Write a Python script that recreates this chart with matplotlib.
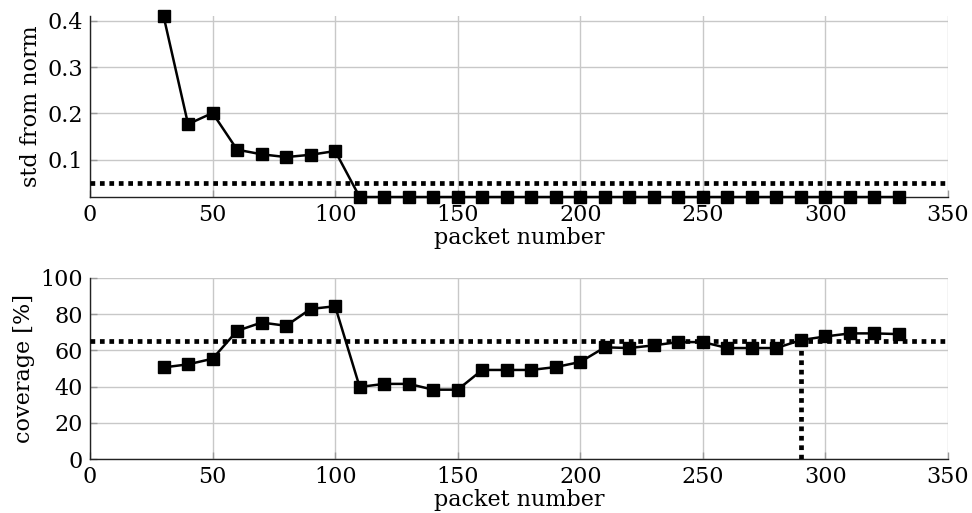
import matplotlib
matplotlib.use("Agg")
import matplotlib.pyplot as plt

packets = [30, 40, 50, 60, 70, 80, 90, 100, 110, 120, 130, 140, 150, 160, 170, 180,
           190, 200, 210, 220, 230, 240, 250, 260, 270, 280, 290, 300, 310, 320, 330]
std_norm = [0.41, 0.177, 0.201, 0.122, 0.112, 0.106, 0.111, 0.119] + [0.02] * 23
coverage = [50.6, 52.3, 55.4, 70.8, 75.4, 73.6, 82.9, 84.4, 39.8, 41.5, 41.5, 38.3,
            38.3, 49.2, 49.2, 49.2, 50.8, 53.6, 61.7, 61.3, 62.8, 64.6, 64.6, 61.3,
            61.3, 61.3, 65.7, 67.7, 69.4, 69.4, 69.0]
std_threshold = 0.05
coverage_threshold = 65
stop_packet = 290

std_ticks = [0.1, 0.2, 0.3, 0.4]
cov_ticks = [0, 20, 40, 60, 80, 100]
x_ticks = [0, 50, 100, 150, 200, 250, 300, 350]

plt.rcParams["font.family"] = ["DejaVu Serif"]
plt.rcParams["font.size"] = 16

fig = plt.figure(figsize=(9.72, 5.13), dpi=100)
W, H = 972, 513
ax1 = fig.add_axes([90 / W, 1 - 197 / H, 858 / W, 181 / H])
ax2 = fig.add_axes([90 / W, 1 - 459 / H, 858 / W, 181 / H])

dot = (0, (1, 1))


def style(ax):
    ax.grid(True, color="#c8c8c8", lw=1.0)
    ax.set_axisbelow(True)
    for s in ("top", "right"):
        ax.spines[s].set_visible(False)
    for s in ("left", "bottom"):
        ax.spines[s].set_linewidth(1.0)
        ax.spines[s].set_color("#222222")
    ax.tick_params(direction="in", length=5, width=1, color="#999999", pad=5)
    ax.set_xlim(0, 350)
    ax.set_xticks(x_ticks)
    ax.set_xlabel("packet number", labelpad=0.5)


ax1.plot(packets, std_norm, color="black", lw=1.8, marker="s", ms=8, clip_on=False, zorder=4)
ax1.axhline(std_threshold, color="black", lw=3.4, ls=dot, dash_capstyle="butt", zorder=3)
ax1.set_ylim(0.02, 0.41)
ax1.set_yticks(std_ticks)
ax1.set_yticklabels(["0.1", "0.2", "0.3", "0.4"])
ax1.set_ylabel("std from norm", labelpad=4)
style(ax1)

ax2.plot(packets, coverage, color="black", lw=1.8, marker="s", ms=8, clip_on=False, zorder=4)
ax2.axhline(coverage_threshold, color="black", lw=3.4, ls=dot, dash_capstyle="butt", zorder=3)
ax2.plot([stop_packet, stop_packet], [0, coverage_threshold], color="black", lw=3.4,
         ls=dot, dash_capstyle="butt", zorder=3)
ax2.set_ylim(0, 100)
ax2.set_yticks(cov_ticks)
ax2.set_ylabel("coverage [%]", labelpad=4)
style(ax2)

fig.savefig("out.png", dpi=100)
